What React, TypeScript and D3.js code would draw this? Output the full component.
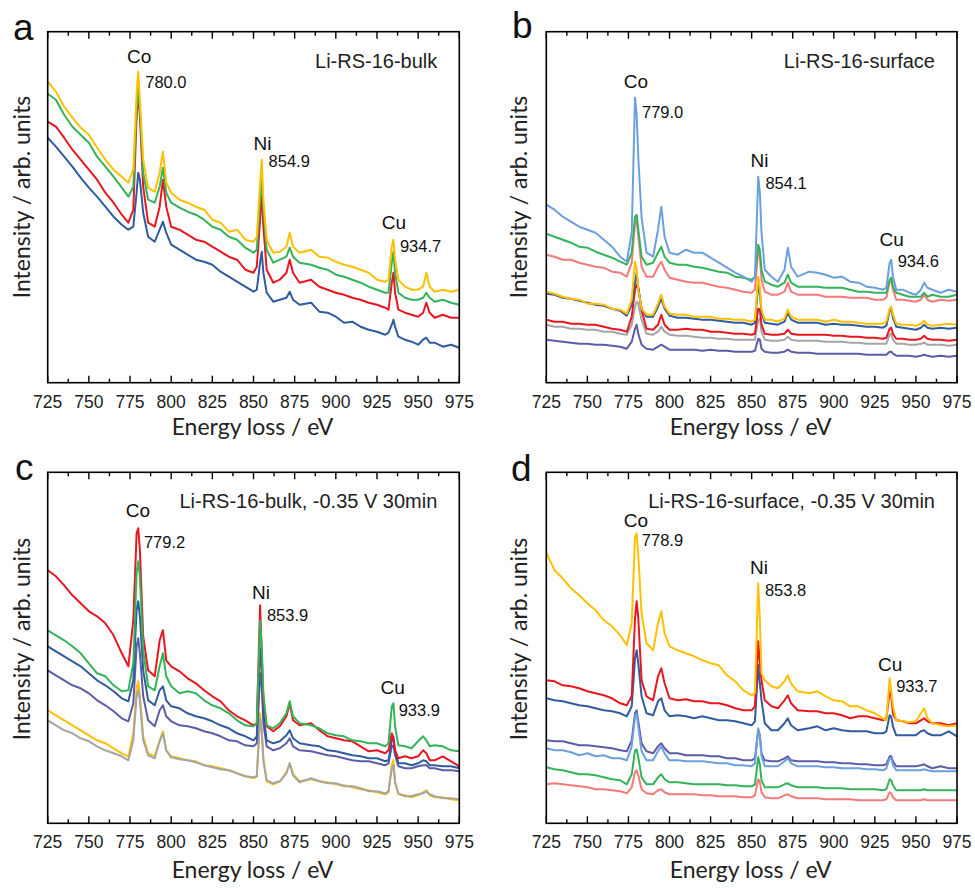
import React from 'react';
import * as d3 from 'd3';

// Energy grid (eV) shared by all spectra
const energies = [725,730,735,740,745,750,755,760,765,770,774,777,779,780,781,783,786,790,793,795,797,800,805,810,815,820,825,830,835,840,845,850,852,854,855,856,858,862,866,870,872,874,878,885,890,895,900,905,910,915,920,925,930,932,934,935,936,938,942,946,950,953,955,957,960,965,970,975];

const xTickValues = [725,750,775,800,825,850,875,900,925,950,975];

// Panel a: Li-RS-16-bulk
const aYellow = [301,291,276,265,255,248,235,223,213,206,200,213,290,311,283,223,195,191,210,231,200,190,183,180,176,173,163,160,151,153,143,141,146,200,223,183,143,130,131,136,150,136,130,133,126,125,121,118,116,113,110,103,101,103,136,143,123,103,96,93,93,96,110,96,91,93,91,93];
const aGreen = [289,283,268,256,248,240,226,216,206,195,186,196,273,295,273,210,183,180,196,215,190,180,175,171,168,163,156,153,146,143,135,130,133,183,203,173,133,120,123,126,135,126,120,118,115,113,108,106,103,100,96,93,90,90,120,131,110,90,85,83,83,85,90,85,81,83,80,78];
const aRed = [261,256,245,233,223,213,203,190,180,168,160,173,266,291,266,196,160,156,176,203,176,156,153,148,143,141,136,131,126,123,113,110,116,163,190,156,113,100,103,110,123,110,100,103,96,93,90,88,85,83,80,78,75,73,100,110,90,73,70,68,66,70,80,70,65,68,65,65];
const aBlue = [245,236,226,216,205,195,186,176,166,158,153,156,190,210,203,170,146,141,153,161,150,138,133,128,123,121,118,111,106,101,96,91,93,120,131,110,90,81,83,85,91,83,78,80,71,70,66,60,61,56,53,51,48,50,58,63,56,46,43,41,38,43,45,40,40,36,38,35];

// Panel b: Li-RS-16-surface
const bLightBlue = [178,173,166,161,156,153,150,143,136,126,121,150,285,268,225,165,130,126,153,176,146,130,128,133,130,130,125,120,115,110,106,101,106,206,190,150,113,106,101,113,135,116,106,111,110,108,105,106,101,100,96,95,93,95,120,123,106,93,93,90,88,93,100,95,93,90,93,91];
const bGreen = [149,146,143,140,136,135,131,128,125,121,118,130,166,168,153,126,118,120,130,136,126,120,118,118,116,115,113,111,110,106,105,103,106,138,133,113,101,98,96,100,108,100,96,96,96,95,95,95,93,91,91,90,90,90,103,105,96,90,88,86,86,86,90,86,88,86,86,88];
const bPink = [128,126,123,123,120,118,116,115,111,110,106,120,160,163,146,116,106,106,116,121,113,105,103,101,100,100,98,96,95,93,91,90,93,133,126,103,91,88,88,91,100,91,88,88,88,86,86,86,85,85,85,83,83,85,101,103,93,83,83,82,81,83,88,83,81,83,82,83];
const bYellow = [91,89,86,84,83,79,79,78,74,73,69,83,121,113,93,74,68,68,79,88,76,69,68,68,66,66,66,64,64,63,63,61,63,106,96,73,63,63,61,64,73,66,63,63,63,61,63,61,61,60,59,59,59,61,74,76,68,59,58,58,57,59,62,58,57,58,59,58];
const bDarkBlue = [89,88,85,84,82,80,78,77,74,72,67,78,100,110,95,74,66,66,76,84,74,67,65,65,64,63,63,62,61,60,60,58,60,98,90,70,60,59,58,61,70,63,60,60,60,58,59,58,58,57,56,56,55,57,72,74,65,56,55,54,53,55,58,55,54,55,54,55];
const bRed = [63,61,61,59,59,58,58,56,54,53,51,66,93,98,94,73,54,53,58,68,58,53,53,54,53,53,51,51,50,49,49,48,49,74,73,58,49,48,48,49,53,49,48,48,48,48,47,47,46,46,45,45,44,45,54,55,49,44,44,43,43,44,47,44,43,43,42,43];
const bGrey = [58,56,56,54,54,53,53,51,51,49,48,58,76,81,79,63,49,48,51,56,51,48,47,47,46,45,45,44,44,43,43,43,43,63,64,51,43,42,42,43,46,43,42,42,42,41,41,41,40,40,39,39,39,39,48,49,43,39,39,38,38,39,40,38,38,38,37,38];
const bPurple = [43,42,41,40,39,39,38,38,37,36,34,41,54,58,49,38,34,33,36,38,36,33,33,33,33,32,33,32,32,31,31,31,32,44,43,34,31,30,30,31,33,31,30,30,29,29,29,29,29,29,28,28,28,28,31,31,29,27,27,27,26,27,28,27,26,27,26,27];

// Panel c: Li-RS-16-bulk, -0.35 V 30min
const cRed = [253,247,238,228,220,212,207,200,188,170,157,203,290,295,273,187,153,147,183,193,163,157,152,145,140,133,127,122,113,107,103,98,100,218,170,123,97,92,97,107,120,103,98,100,93,87,85,83,82,77,72,73,70,73,90,83,73,65,67,65,67,73,70,63,63,67,62,57];
const cGreen = [193,188,183,177,170,160,150,147,138,132,133,160,250,262,247,173,137,133,157,170,147,137,130,132,130,123,118,115,110,103,98,97,100,203,177,130,98,95,100,110,122,107,100,98,95,90,88,87,83,82,80,80,77,80,117,120,97,78,77,75,82,87,83,77,78,77,73,72];
const cBlue = [177,172,167,162,157,150,143,138,132,125,122,143,213,222,207,153,123,118,133,137,123,117,115,110,107,105,102,98,95,90,87,83,87,175,153,110,83,80,82,88,93,85,80,78,77,73,72,70,68,67,65,65,62,63,83,87,73,60,60,58,60,63,62,58,58,57,57,55];
const cPurple = [153,148,143,138,135,130,123,118,112,105,102,120,177,185,170,127,103,97,113,118,107,102,98,97,95,92,90,87,83,82,78,77,80,150,137,100,77,73,75,80,85,77,73,72,70,68,67,65,63,62,62,60,58,60,77,78,68,57,55,55,57,58,58,55,55,53,53,52];
const cYellow = [113,108,103,98,93,88,83,80,75,70,67,90,135,142,127,87,70,67,83,92,73,67,65,63,62,58,57,55,53,50,47,45,47,110,95,65,42,39,42,51,60,49,42,44,42,41,39,38,36,34,33,31,29,31,59,63,42,29,28,26,28,31,33,28,26,26,24,23];
const cGrey = [103,98,93,90,85,82,77,73,70,67,63,83,127,133,123,83,68,65,82,90,73,66,64,63,61,58,56,54,53,50,47,46,47,105,92,62,43,40,42,50,60,48,41,45,42,40,40,37,37,35,32,32,30,32,55,58,40,30,27,27,29,30,32,29,27,25,25,24];

// Panel d: Li-RS-16-surface, -0.35 V 30min
const dYellow = [271,253,245,235,228,220,213,203,197,188,178,200,286,290,268,210,180,173,200,212,190,177,173,170,167,163,160,158,148,142,133,128,130,240,203,150,143,137,135,142,148,140,132,130,132,127,123,122,117,117,113,110,105,103,145,133,117,103,102,101,102,110,115,105,100,98,97,98];
const dRed = [143,142,138,137,135,132,130,128,125,120,118,127,205,222,205,143,127,123,147,155,140,125,123,124,122,122,120,120,118,115,113,113,117,182,160,143,123,117,115,123,128,120,113,112,112,110,110,108,105,107,107,105,103,105,132,127,110,103,102,100,100,103,105,102,100,100,98,100];
const dBlue = [125,123,122,120,118,117,115,113,112,110,107,117,165,173,160,127,110,108,122,125,113,107,108,107,105,107,105,103,103,102,100,98,102,158,140,123,100,93,93,100,105,98,93,95,97,93,95,93,92,92,92,90,90,92,108,107,97,88,88,88,88,92,93,90,88,88,92,87];
const dPurple = [83,82,82,80,78,78,77,76,75,73,72,83,110,113,102,80,72,70,77,80,75,70,70,68,68,68,67,67,65,65,63,63,65,93,88,70,63,62,62,65,67,63,62,62,62,61,61,60,60,59,59,58,58,59,67,67,62,57,57,57,57,58,59,57,55,57,55,55];
const dLightBlue = [75,73,73,71,68,70,67,68,65,65,63,77,107,110,97,72,63,63,72,77,70,63,63,62,62,62,61,60,60,58,58,57,60,95,88,67,57,57,57,62,65,60,57,57,57,56,56,55,55,55,54,54,53,55,65,65,58,53,53,53,53,53,54,53,52,52,52,52];
const dGreen = [56,54,53,51,49,49,48,46,44,43,39,49,73,74,66,46,39,39,46,49,44,41,41,40,39,39,39,39,38,38,37,37,39,66,59,43,36,36,36,39,40,38,36,36,36,35,35,35,34,34,34,34,33,34,44,43,38,33,33,33,33,33,34,33,33,33,33,33];
const dPink = [39,40,39,38,37,36,34,34,33,32,30,36,51,53,48,34,30,29,33,34,31,29,29,29,29,28,28,27,27,27,26,26,28,44,41,31,26,25,25,28,29,27,25,25,25,24,24,24,24,23,23,23,23,24,31,30,26,23,23,23,23,23,24,23,23,23,23,23];

const elements = ['Co', 'Ni', 'Cu'];
const aPeakEnergies = [780.0, 854.9, 934.7];
const bPeakEnergies = [779.0, 854.1, 934.6];
const cPeakEnergies = [779.2, 853.9, 933.9];
const dPeakEnergies = [778.9, 853.8, 933.7];

const sampleNames = ['Li-RS-16-bulk', 'Li-RS-16-surface', 'Li-RS-16-bulk, -0.35 V 30min', 'Li-RS-16-surface, -0.35 V 30min'];
const panelLetters = ['a', 'b', 'c', 'd'];

const C = {
  yellow: '#FFC000',
  green: '#33B35A',
  red: '#E8161E',
  darkBlue: '#2E5C9E',
  lightBlue: '#6CA0DC',
  pink: '#F47A7A',
  grey: '#A5A5A5',
  purple: '#5C5CA8',
};

const ARIAL = "'Liberation Sans', Arial, sans-serif";
const TITLE_FONT = "Lato, 'Open Sans', sans-serif";

// layout (pixels) and label placement (intensity units)
const panels = [
  { letter: panelLetters[0], sample: sampleNames[0], peaks: aPeakEnergies, x0: 47.7, x1: 459.3, y0: 31.7, y1: 382.7,
    lx: 13, ly: 40, ytx: 30, yty: 197, xtY: 435,
    labelY: [[320, 295], [233, 216], [154, 131]],
    series: [[aBlue, C.darkBlue], [aRed, C.red], [aGreen, C.green], [aYellow, C.yellow]] },
  { letter: panelLetters[1], sample: sampleNames[1], peaks: bPeakEnergies, x0: 546.3, x1: 957, y0: 31.7, y1: 382.7,
    lx: 512, ly: 38, ytx: 527, yty: 197, xtY: 435,
    labelY: [[295, 265], [216, 194], [137, 116]],
    series: [[bPurple, C.purple], [bGrey, C.grey], [bRed, C.red], [bDarkBlue, C.darkBlue], [bYellow, C.yellow], [bPink, C.pink], [bGreen, C.green], [bLightBlue, C.lightBlue]] },
  { letter: panelLetters[2], sample: sampleNames[2], peaks: cPeakEnergies, x0: 47.7, x1: 459.3, y0: 472.3, y1: 823.3,
    lx: 15, ly: 480, ytx: 30, yty: 639, xtY: 878,
    labelY: [[306, 275], [224, 202], [129, 107]],
    series: [[cYellow, C.yellow], [cGrey, C.grey], [cPurple, C.purple], [cBlue, C.darkBlue], [cRed, C.red], [cGreen, C.green]] },
  { letter: panelLetters[3], sample: sampleNames[3], peaks: dPeakEnergies, x0: 546.3, x1: 957, y0: 472.3, y1: 823.3,
    lx: 511, ly: 481, ytx: 527, yty: 639, xtY: 878,
    labelY: [[296, 277], [249, 227], [152, 131]],
    series: [[dPink, C.pink], [dGreen, C.green], [dPurple, C.purple], [dLightBlue, C.lightBlue], [dBlue, C.darkBlue], [dRed, C.red], [dYellow, C.yellow]] },
];

function Panel({ p }: { p: any }) {
  const x = d3.scaleLinear().domain([725, 975]).range([p.x0, p.x1]);
  const y = d3.scaleLinear().domain([0, 351]).range([p.y1, p.y0]);
  const line = d3.line<number>().x((_, i) => x(energies[i])).y((v) => y(v)).curve(d3.curveLinear);
  const minor = d3.range(737.5, 975, 25);
  return (
    <g>
      <defs>
        <clipPath id={`clip-${p.letter}`}>
          <rect x={p.x0} y={p.y0} width={p.x1 - p.x0} height={p.y1 - p.y0} />
        </clipPath>
      </defs>
      <g clipPath={`url(#clip-${p.letter})`}>
        {p.series.map(([vals, col]: [number[], string], i: number) => (
          <path key={i} d={line(vals) || ''} fill="none" stroke={col} strokeWidth={2} strokeLinejoin="round" />
        ))}
      </g>
      <rect x={p.x0} y={p.y0} width={p.x1 - p.x0} height={p.y1 - p.y0} fill="none" stroke="#000" strokeWidth={1.6} />
      {xTickValues.map((t) => (
        <g key={`M${t}`}>
          <line x1={x(t)} x2={x(t)} y1={p.y1} y2={p.y1 - 7} stroke="#000" strokeWidth={1.4} />
          <line x1={x(t)} x2={x(t)} y1={p.y0} y2={p.y0 + 7} stroke="#000" strokeWidth={1.4} />
          <text x={x(t)} y={p.y1 + 25} textAnchor="middle" fontFamily={ARIAL} fontSize={17.5} fill="#222">{t}</text>
        </g>
      ))}
      {minor.map((t) => (
        <g key={`m${t}`}>
          <line x1={x(t)} x2={x(t)} y1={p.y1} y2={p.y1 - 4} stroke="#000" strokeWidth={1.4} />
          <line x1={x(t)} x2={x(t)} y1={p.y0} y2={p.y0 + 4} stroke="#000" strokeWidth={1.4} />
        </g>
      ))}
      <text x={(p.x0 + p.x1) / 2 - 1} y={p.xtY} textAnchor="middle" fontFamily={TITLE_FONT} fontSize={23} fill="#222">Energy loss / eV</text>
      <text transform={`translate(${p.ytx},${p.yty}) rotate(-90)`} textAnchor="middle" fontFamily={TITLE_FONT} fontSize={23} fill="#222">Intensity / arb. units</text>
      <text x={p.lx} y={p.ly} fontFamily={ARIAL} fontSize={37} fill="#111">{p.letter}</text>
      <text x={p.x1 - 22} y={p.y0 + 36} textAnchor="end" fontFamily={ARIAL} fontSize={20} fill="#222">{p.sample}</text>
      {p.peaks.map((e: number, i: number) => (
        <g key={elements[i]}>
          <text x={x(e) + 1} y={y(p.labelY[i][0])} textAnchor="middle" fontFamily={ARIAL} fontSize={19} fill="#111">{elements[i]}</text>
          <text x={x(e) + 7} y={y(p.labelY[i][1])} fontFamily={ARIAL} fontSize={16.5} fill="#111">{e.toFixed(1)}</text>
        </g>
      ))}
    </g>
  );
}

export default function App() {
  return (
    <svg width={975} height={888} style={{ position: 'absolute', left: 0, top: 0, background: '#fff' }}>
      <rect width={975} height={888} fill="#fff" />
      {panels.map((p) => <Panel key={p.letter} p={p} />)}
    </svg>
  );
}
